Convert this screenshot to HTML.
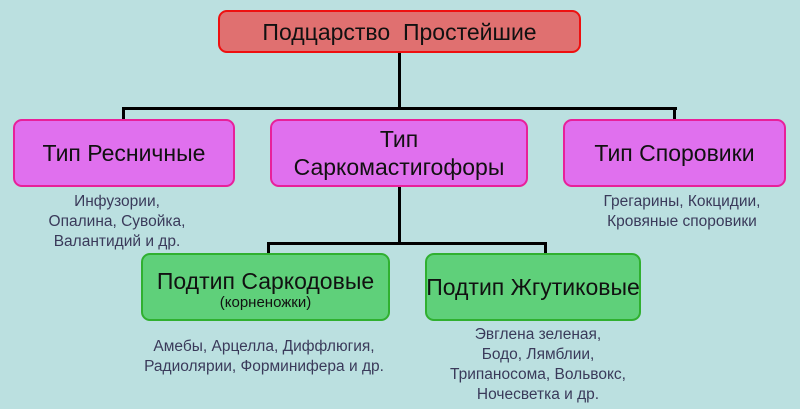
<!DOCTYPE html>
<html><head><meta charset="utf-8"><style>
body{margin:0;width:800px;height:409px;background:#bbe0e0;position:relative;overflow:hidden;font-family:"Liberation Sans",sans-serif}
.b{position:absolute;box-sizing:border-box;border-radius:9px;border:2px solid;display:flex;flex-direction:column;align-items:center;justify-content:center;text-align:center;color:#111;font-size:23px;line-height:28px;white-space:nowrap}
.l{position:absolute;background:#000}
.t{position:absolute;text-align:center;color:#3a3a5a;font-size:15.5px;line-height:20px;transform:translateX(-50%);white-space:nowrap}
.m{background:#e070ee;border-color:#e8209a}
.g{background:#5fd07a;border-color:#30b030}
</style></head><body>
<div class="l" style="left:398px;top:52px;width:3px;height:58px"></div>
<div class="l" style="left:122px;top:107px;width:555px;height:3px"></div>
<div class="l" style="left:122px;top:107px;width:3px;height:13px"></div>
<div class="l" style="left:673px;top:107px;width:3px;height:13px"></div>
<div class="l" style="left:398px;top:185px;width:3px;height:60px"></div>
<div class="l" style="left:267px;top:242px;width:280px;height:3px"></div>
<div class="l" style="left:267px;top:242px;width:3px;height:12px"></div>
<div class="l" style="left:544px;top:242px;width:3px;height:12px"></div>

<div class="b" style="left:218px;top:10px;width:363px;height:43px;background:#e07070;border-color:#ee1010">Подцарство&nbsp; Простейшие</div>
<div class="b m" style="left:13px;top:119px;width:222px;height:68px">Тип Ресничные</div>
<div class="b m" style="left:270px;top:119px;width:258px;height:68px">Тип<br>Саркомастигофоры</div>
<div class="b m" style="left:563px;top:119px;width:223px;height:68px">Тип Споровики</div>
<div class="b g" style="left:141px;top:253px;width:249px;height:68px;padding-top:4px">Подтип Саркодовые<span style="font-size:15px;line-height:16px">(корненожки)</span></div>
<div class="b g" style="left:425px;top:253px;width:216px;height:68px">Подтип Жгутиковые</div>

<div class="t" style="left:117px;top:192px">Инфузории,<br>Опалина, Сувойка,<br>Валантидий и др.</div>
<div class="t" style="left:682px;top:192px">Грегарины, Кокцидии,<br>Кровяные споровики</div>
<div class="t" style="left:264px;top:337px">Амебы, Арцелла, Диффлюгия,<br>Радиолярии, Форминифера и др.</div>
<div class="t" style="left:538px;top:325px">Эвглена зеленая,<br>Бодо, Лямблии,<br>Трипаносома, Вольвокс,<br>Ночесветка и др.</div>
</body></html>
